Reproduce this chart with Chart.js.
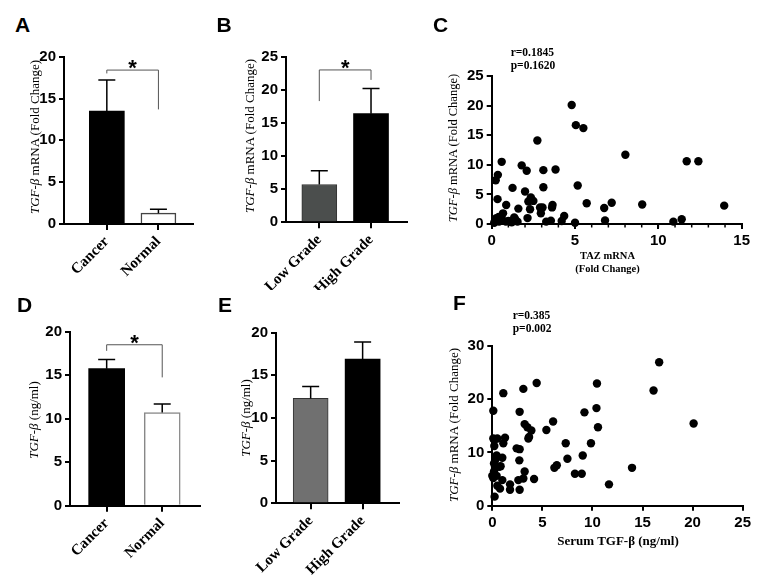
<!DOCTYPE html>
<html><head><meta charset="utf-8">
<script src="https://cdn.jsdelivr.net/npm/chart.js@4.4.0/dist/chart.umd.min.js"></script>
<style>
html,body{margin:0;padding:0;background:#fff;}
#wrap{position:relative;width:771px;height:587px;overflow:hidden;background:#fff;}
canvas{position:absolute;}
.lbl{position:absolute;font-family:'Liberation Sans',Arial,sans-serif;font-weight:bold;font-size:21px;line-height:21px;color:#000;z-index:5}
.yt{position:absolute;font-family:'Liberation Serif','Times New Roman',serif;font-size:13px;line-height:13px;white-space:nowrap;transform:translate(-50%,-50%) rotate(-90deg);z-index:5;color:#000}
.yt i{font-style:italic}
.rp{position:absolute;font-family:'Liberation Serif',serif;font-weight:bold;font-size:11.5px;line-height:13px;z-index:5;white-space:nowrap;color:#000}
.xt{position:absolute;font-family:'Liberation Serif',serif;font-weight:bold;text-align:center;transform:translateX(-50%);white-space:nowrap;z-index:5;color:#000}
</style></head><body>
<div id="wrap">
<canvas id="cA" width="210" height="250" style="left:0px;top:40px"></canvas>
<canvas id="cB" width="225" height="250" style="left:200px;top:40px"></canvas>
<canvas id="cC" width="341" height="210" style="left:430px;top:50px"></canvas>
<canvas id="cD" width="215" height="277" style="left:0px;top:310px"></canvas>
<canvas id="cE" width="215" height="277" style="left:205px;top:310px"></canvas>
<canvas id="cF" width="341" height="267" style="left:430px;top:320px"></canvas>

<div class="lbl" style="left:15px;top:14.3px">A</div>
<div class="lbl" style="left:216.5px;top:14.3px">B</div>
<div class="lbl" style="left:433px;top:14.3px">C</div>
<div class="lbl" style="left:17px;top:294.3px">D</div>
<div class="lbl" style="left:218px;top:294.3px">E</div>
<div class="lbl" style="left:453px;top:292.3px">F</div>

<div class="yt" style="left:34px;top:137px"><i>TGF-β</i> mRNA (Fold Change)</div>
<div class="yt" style="left:249px;top:136px"><i>TGF-β</i> mRNA (Fold Change)</div>
<div class="yt" style="left:453px;top:148px;font-size:12.5px"><i>TGF-β</i> mRNA (Fold Change)</div>
<div class="yt" style="left:32.5px;top:420px"><i>TGF-β</i> (ng/ml)</div>
<div class="yt" style="left:244.5px;top:417.7px"><i>TGF-β</i> (ng/ml)</div>
<div class="yt" style="left:453px;top:425px"><i>TGF-β</i> mRNA (Fold Change)</div>

<div class="rp" style="left:510.7px;top:45.5px">r=0.1845<br>p=0.1620</div>
<div class="rp" style="left:512.7px;top:308.5px;line-height:13.3px">r=0.385<br>p=0.002</div>

<div class="xt" style="left:607.5px;top:248.5px;font-size:10.5px;line-height:13px">TAZ mRNA<br>(Fold Change)</div>
<div class="xt" style="left:618px;top:532.5px;font-size:13px;line-height:15px">Serum TGF-β (ng/ml)</div>
</div>
<script>
// ---- Data ----
const tissueCats = ['Cancer', 'Normal'];
const gradeCats = ['Low Grade', 'High Grade'];

// A: TGF-beta mRNA, cancer vs normal (mean, mean+SEM)
const mrnaTissueMean = [13.5, 1.3];
const mrnaTissueErr = [17.2, 1.75];
const mrnaTissueSig = [18.4, 18.0, 13.7];

// B: TGF-beta mRNA by grade
const mrnaGradeMean = [5.7, 16.4];
const mrnaGradeErr = [7.8, 20.2];
const mrnaGradeSig = [23.0, 18.3, 21.5];

// D: serum TGF-beta, cancer vs normal
const serumTissueMean = [15.75, 10.7];
const serumTissueErr = [16.8, 11.7];
const serumTissueSig = [18.5, 17.8, 14.75];

// E: serum TGF-beta by grade
const serumGradeMean = [12.3, 16.9];
const serumGradeErr = [13.7, 18.9];

// C: TAZ mRNA vs TGF-beta mRNA
const tazX = [4.8,5.05,5.5,2.74,8.02,11.7,12.4,0.6,1.8,2.1,3.1,3.83,0.37,0.24,5.16,1.25,3.1,2.0,0.35,2.35,2.2,2.5,5.7,7.2,9.03,13.95,3.65,0.87,1.6,2.3,2.9,3.05,3.62,6.75,0.68,2.95,2.15,1.35,4.35,0.42,11.4,10.9,6.8,5.0,3.55,3.27,1.55,1.4,0.2,0.28,0.44,0.85,1.0,4.2,0.15,0.6,1.2];
const tgfC = [20.1,16.7,16.2,14.1,11.7,10.6,10.6,10.5,9.9,9.0,9.1,9.2,8.3,7.4,6.5,6.1,6.2,5.5,4.2,4.5,3.8,3.9,3.5,3.6,3.3,3.1,3.2,3.2,2.6,2.5,2.8,2.8,2.8,2.7,1.8,1.8,1.0,1.1,1.35,1.2,0.8,0.4,0.6,0.2,0.55,0.4,0.4,0.8,0.6,1.0,0.4,0.4,0.5,0.5,0.2,0.9,0.3];

// F: serum TGF-beta vs TGF-beta mRNA
const serumX = [16.66,16.1,20.1,13.95,11.65,10.45,10.4,9.2,10.55,9.85,7.33,9.03,8.93,8.25,7.5,6.44,6.2,6.07,5.4,4.43,3.1,1.1,0.1,2.73,3.23,3.5,3.9,3.67,3.6,0.1,0.5,1.27,0.2,1.1,2.43,2.73,0.43,1.0,2.7,0.17,0.27,0.67,0.83,0.0,0.43,3.23,1.0,0.5,0.77,3.1,2.6,4.17,1.77,1.77,2.73,0.23,0.17,0.1,0.2,0.3];
const tgfF = [26.9,21.6,15.4,7.1,4.0,22.9,18.3,17.5,14.7,11.7,11.7,9.4,6.0,6.0,8.8,7.6,7.1,15.8,14.2,23.0,21.9,21.1,17.8,17.6,15.3,14.7,14.1,12.9,12.6,12.6,12.6,12.75,11.2,11.7,10.75,10.6,9.4,9.0,8.5,7.9,7.3,7.3,7.4,5.6,5.6,6.4,4.8,3.75,3.2,5.1,4.8,5.0,4.0,3.0,3.0,1.7,6.4,5.2,12.3,8.6];

// ---- Drawing ----
Chart.defaults.color = '#000';
Chart.defaults.font.family = '"Liberation Sans", Arial, sans-serif';

const extras = {
  id: 'extras',
  afterDatasetsDraw(chart, args, opts) {
    const ctx = chart.ctx, ys = chart.scales.y, xs = chart.scales.x;
    ctx.save();
    if (opts.tops) {
      const meta = chart.getDatasetMeta(0);
      ctx.strokeStyle = '#000'; ctx.lineWidth = 1.5;
      opts.tops.forEach((t, i) => {
        const el = meta.data[i];
        const y1 = ys.getPixelForValue(t);
        ctx.beginPath();
        ctx.moveTo(el.x, el.y); ctx.lineTo(el.x, y1);
        ctx.moveTo(el.x - opts.cap, y1); ctx.lineTo(el.x + opts.cap, y1);
        ctx.stroke();
      });
      if (opts.sig) {
        const [top, l, r] = opts.sig;
        const xl = meta.data[0].x, xr = meta.data[1].x, yt = ys.getPixelForValue(top);
        ctx.strokeStyle = '#555'; ctx.lineWidth = 1;
        ctx.beginPath();
        ctx.moveTo(xl, ys.getPixelForValue(l)); ctx.lineTo(xl, yt);
        ctx.lineTo(xr, yt); ctx.lineTo(xr, ys.getPixelForValue(r));
        ctx.stroke();
        ctx.fillStyle = '#000';
        ctx.font = 'bold 22px "Liberation Sans"';
        ctx.textAlign = 'center'; ctx.textBaseline = 'alphabetic';
        ctx.fillText('*', (xl + xr) / 2, yt + 5);
      }
    }
    if (opts.minorX) {
      ctx.strokeStyle = '#000'; ctx.lineWidth = 1.5;
      const yb = chart.chartArea.bottom;
      for (let v = xs.min; v <= xs.max; v += opts.minorX) {
        const x = xs.getPixelForValue(v);
        ctx.beginPath(); ctx.moveTo(x, yb); ctx.lineTo(x, yb + 3.5); ctx.stroke();
      }
    }
    ctx.restore();
  }
};

const numFont = {family: '"Liberation Sans", Arial', weight: 'bold', size: 15};

function makeBar(id, o) {
  return new Chart(document.getElementById(id), {
    type: 'bar',
    data: {datasets: [{
      data: o.cats.map((c, i) => ({x: i + 1, y: o.vals[i]})),
      backgroundColor: o.fill, borderColor: o.stroke, borderWidth: o.bw,
      barThickness: o.thick, borderSkipped: 'bottom'
    }]},
    options: {
      responsive: false, animation: false, devicePixelRatio: 1,
      layout: {padding: o.pad},
      plugins: {legend: {display: false}, tooltip: {enabled: false},
        extras: {tops: o.tops, cap: 8.5, sig: o.sig}},
      scales: {
        x: {type: 'linear', min: o.xmin, max: o.xmax, offset: false,
          afterBuildTicks: s => { s.ticks = o.cats.map((c, i) => ({value: i + 1})); },
          afterFit: s => { s.height = o.xh; },
          grid: {drawOnChartArea: false, drawTicks: true, tickLength: 6, color: '#000', lineWidth: 2, offset: false},
          border: {color: '#000', width: 2},
          ticks: {callback: v => o.cats[v - 1], minRotation: 45, maxRotation: 45, autoSkip: false,
            color: '#000', padding: 3, font: {family: '"Liberation Serif", "Times New Roman"', weight: 'bold', size: 15}}},
        y: {min: 0, max: o.ymax,
          afterFit: s => { s.width = o.yw; },
          grid: {drawOnChartArea: false, tickLength: 5, color: '#000', lineWidth: 2},
          border: {color: '#000', width: 2},
          ticks: {stepSize: o.ystep, color: '#000', padding: 3, font: numFont}}
      }
    },
    plugins: [extras]
  });
}

function makeScatter(id, xv, yv, o) {
  return new Chart(document.getElementById(id), {
    type: 'scatter',
    data: {datasets: [{data: xv.map((x, i) => ({x: x, y: yv[i]})),
      backgroundColor: '#000', borderColor: '#000', pointRadius: 4.2, pointBorderWidth: 0, clip: false}]},
    options: {
      responsive: false, animation: false, devicePixelRatio: 1,
      layout: {padding: o.pad},
      plugins: {legend: {display: false}, tooltip: {enabled: false}, extras: {minorX: o.minorX}},
      scales: {
        x: {type: 'linear', min: 0, max: o.xmax,
          afterFit: s => { s.height = o.xh; },
          grid: {drawOnChartArea: false, tickLength: 5, color: '#000', lineWidth: 2},
          border: {color: '#000', width: 2},
          ticks: {stepSize: o.xstep, color: '#000', padding: 3, font: numFont}},
        y: {min: 0, max: o.ymax,
          afterFit: s => { s.width = o.yw; },
          grid: {drawOnChartArea: false, tickLength: 5, color: '#000', lineWidth: 2},
          border: {color: '#000', width: 2},
          ticks: {stepSize: o.ystep, color: '#000', padding: 3, font: numFont}}
      }
    },
    plugins: [extras]
  });
}

makeBar('cA', {cats: tissueCats, vals: mrnaTissueMean, tops: mrnaTissueErr, sig: mrnaTissueSig,
  fill: ['#000', '#fff'], stroke: ['#000', '#444'], bw: [0, 1.5], thick: 35,
  xmin: 0.17, xmax: 2.67, ymax: 20, ystep: 5, yw: 64, xh: 66,
  pad: {left: 0, top: 16.7, right: 17, bottom: 0}});

makeBar('cB', {cats: gradeCats, vals: mrnaGradeMean, tops: mrnaGradeErr, sig: mrnaGradeSig,
  fill: ['#4b4e4d', '#000'], stroke: ['#333', '#000'], bw: [1, 0], thick: 35,
  xmin: 0.356, xmax: 2.69, ymax: 25, ystep: 5, yw: 86, xh: 67.7,
  pad: {left: 0, top: 16.7, right: 18.3, bottom: 0}});

makeScatter('cC', tazX, tgfC, {xmax: 15, xstep: 5, ymax: 25, ystep: 5, minorX: 1,
  yw: 61.7, xh: 36, pad: {left: 0, top: 26, right: 29.3, bottom: 0}});

makeBar('cD', {cats: tissueCats, vals: serumTissueMean, tops: serumTissueErr, sig: serumTissueSig,
  fill: ['#000', '#fff'], stroke: ['#000', '#888'], bw: [0, 1.5], thick: 36,
  xmin: 0.34, xmax: 2.68, ymax: 20, ystep: 5, yw: 70, xh: 81.3,
  pad: {left: 0, top: 21.7, right: 15, bottom: 0}});

makeBar('cE', {cats: gradeCats, vals: serumGradeMean, tops: serumGradeErr, sig: null,
  fill: ['#707070', '#000'], stroke: ['#333', '#000'], bw: [1, 0], thick: 35,
  xmin: 0.333, xmax: 2.70, ymax: 20, ystep: 5, yw: 71, xh: 83.7,
  pad: {left: 0, top: 22.7, right: 21, bottom: 0}});

makeScatter('cF', serumX, tgfF, {xmax: 25, xstep: 5, ymax: 30, ystep: 10, minorX: 0,
  yw: 62.3, xh: 81.3, pad: {left: 0, top: 25.7, right: 28.3, bottom: 0}});
</script>
</body></html>
